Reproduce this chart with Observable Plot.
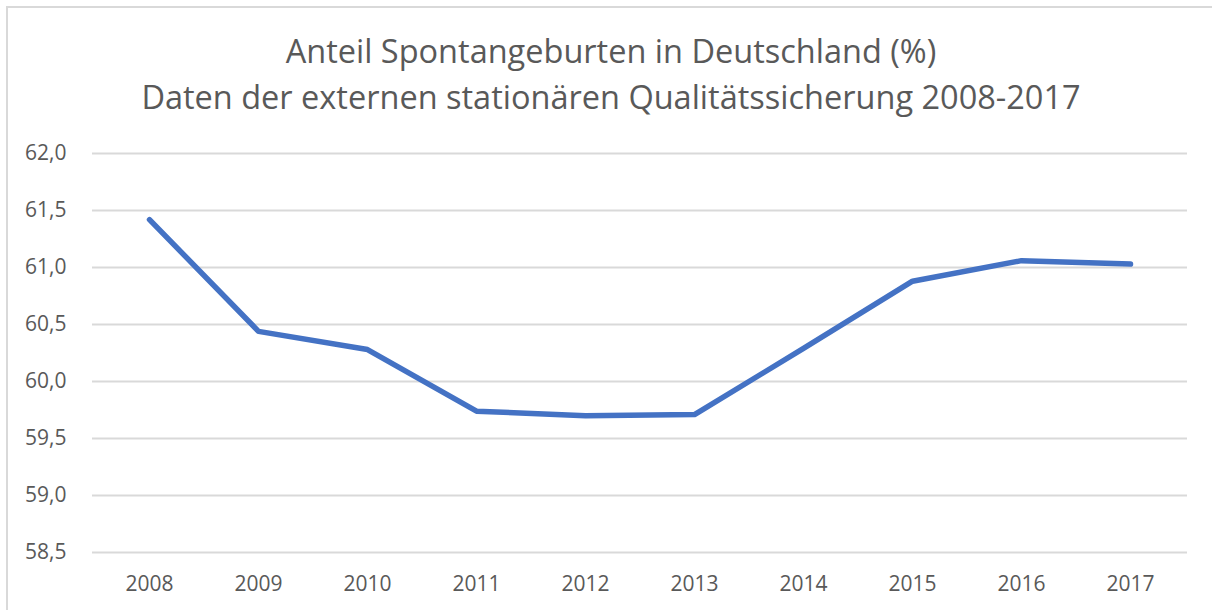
<!DOCTYPE html>
<html>
<head>
<meta charset="utf-8">
<script src="https://cdn.jsdelivr.net/npm/d3@7"></script>
<script src="https://cdn.jsdelivr.net/npm/@observablehq/plot@0.6"></script>
<style>
  html, body { margin: 0; padding: 0; background: #fff; }
  #wrap { position: relative; width: 1212px; height: 610px; overflow: hidden; background: #fff; font-family: "Open Sans", sans-serif; }
  #frame { position: absolute; left: 6px; top: 6px; width: 1400px; height: 800px; border: 2px solid #d9d9d9; box-sizing: border-box; }
  .title { position: absolute; left: 5px; width: 1212px; text-align: center; color: #595959; font-size: 32.5px; line-height: 1; white-space: nowrap; }
  #chart { position: absolute; left: 0; top: 0; }
</style>
</head>
<body>
<div id="wrap">
  <div id="frame"></div>
  <div id="chart"></div>
  <div class="title" id="t1" style="top:35px">Anteil Spontangeburten in Deutschland (%)</div>
  <div class="title" id="t2" style="top:81px">Daten der externen stationären Qualitätssicherung 2008-2017</div>
</div>
<script>
const years = ["2008","2009","2010","2011","2012","2013","2014","2015","2016","2017"];
const values = [61.42, 60.44, 60.28, 59.74, 59.70, 59.71, 60.29, 60.88, 61.06, 61.03];
const yTicks = [58.5, 59.0, 59.5, 60.0, 60.5, 61.0, 61.5, 62.0];

const data = years.map((y, i) => ({year: y, value: values[i]}));
const fmt = v => d3.format(".1f")(v).replace(".", ",");

const chart = Plot.plot({
  width: 1212,
  height: 610,
  marginTop: 153,
  marginBottom: 58,
  marginLeft: 92,
  marginRight: 25,
  style: {fontFamily: "'Open Sans', sans-serif", fontSize: "21px", color: "#595959", background: "transparent"},
  x: {type: "point", domain: years, padding: 0.5, align: 0.5},
  y: {domain: [58.5, 62.0]},
  marks: [
    Plot.ruleY(yTicks, {stroke: "#d9d9d9", strokeWidth: 2}),
    Plot.axisY(yTicks, {tickSize: 0, tickPadding: 26, tickFormat: fmt, fill: "#595959", fontSize: 21, label: null}),
    Plot.axisX({tickSize: 0, tickPadding: 24, fill: "#595959", fontSize: 21, label: null}),
    Plot.line(data, {x: "year", y: "value", stroke: "#4472c4", strokeWidth: 5.5, strokeLinecap: "round", strokeLinejoin: "round"})
  ]
});
document.getElementById("chart").appendChild(chart);
</script>
</body>
</html>
